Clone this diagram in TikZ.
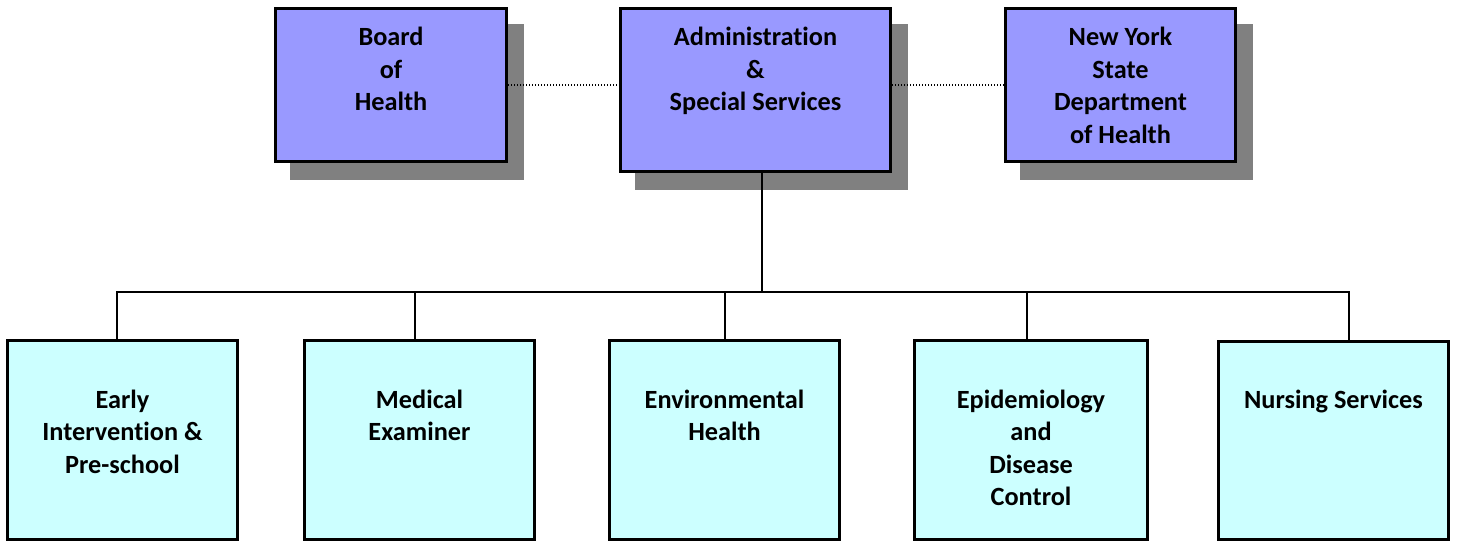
\documentclass[tikz,border=0pt]{standalone}
\usepackage{fontspec}
\setmainfont[Ligatures={NoCommon,NoContextual,NoRare}, RawFeature={-liga;-clig;-dlig;-calt}]{Carlito}
\usetikzlibrary{shadows}
\definecolor{topfill}{HTML}{9999FF}
\definecolor{subfill}{HTML}{CCFFFF}
\definecolor{shadowgray}{HTML}{808080}
\newcommand\boxlines[1]{\parbox[t]{240pt}{\centering\fontsize{26.3}{32.5}\selectfont\bfseries #1}}
\begin{document}
\begin{tikzpicture}[x=1pt,y=-1pt,
  topbox/.style={draw=black, line width=3pt, fill=topfill,
    drop shadow={shadow xshift=16pt, shadow yshift=-16.5pt, fill=shadowgray, draw=shadowgray, line width=3pt, opacity=1}},
  subbox/.style={draw=black, line width=3pt, fill=subfill},
  boxtext/.style={inner sep=0pt, anchor=base},
  conn/.style={line width=1.5pt, black},
  peer/.style={line width=1.2pt, black, dash pattern=on 1.2pt off 1.8pt}]
\useasboundingbox (0,0) rectangle (1461,542);

% upper row
\node[topbox, minimum width=231pt, minimum height=153pt] (board) at (391,85) {};
\node[topbox, minimum width=270pt, minimum height=163pt] (admin) at (755.5,90) {};
\node[topbox, minimum width=230pt, minimum height=153pt] (nys) at (1120.5,85) {};

\node[boxtext] (boardT) at ([yshift=-38.5pt]board.north) {\boxlines{Board\\of\\Health}};
\node[boxtext] (adminT) at ([yshift=-38.5pt]admin.north) {\boxlines{Administration\\\&\\Special Services}};
\node[boxtext] (nysT) at ([yshift=-38.5pt]nys.north) {\boxlines{New York\\State\\Department\\of Health}};

% lower row
\node[subbox, minimum width=230pt, minimum height=199pt] (early) at (122.5,440) {};
\node[subbox, minimum width=230pt, minimum height=199pt] (medical) at (419.5,440) {};
\node[subbox, minimum width=230pt, minimum height=199pt] (env) at (724.5,440) {};
\node[subbox, minimum width=233pt, minimum height=199pt] (epi) at (1031,440) {};
\node[subbox, minimum width=230pt, minimum height=198pt] (nursing) at (1333.5,440.5) {};

\node[boxtext] (earlyT) at ([yshift=-69pt]early.north) {\boxlines{Early\\Intervention \&\\Pre-school}};
\node[boxtext] (medicalT) at ([yshift=-69pt]medical.north) {\boxlines{Medical\\Examiner}};
\node[boxtext] (envT) at ([yshift=-69pt]env.north) {\boxlines{Environmental\\Health}};
\node[boxtext] (epiT) at ([yshift=-69pt]epi.north) {\boxlines{Epidemiology\\and\\Disease\\Control}};
\node[boxtext] (nursingT) at ([yshift=-68pt]nursing.north) {\boxlines{Nursing Services}};

% advisory links
\draw[peer] (board.east) -- (board.east -| admin.west);
\draw[peer] (nys.west -| admin.east) -- (nys.west);

% reporting lines
\coordinate (bus) at (0,292);
\draw[conn] ([xshift=6.5pt]admin.south) -- ([xshift=6.5pt]admin.south |- bus);
\draw[conn] ([xshift=-5.5pt]early.north) |- ([xshift=15.5pt]nursing.north |- bus) -- ([xshift=15.5pt]nursing.north);
\draw[conn] ([xshift=-4.5pt]medical.north) -- ([xshift=-4.5pt]medical.north |- bus);
\draw[conn] ([xshift=0.5pt]env.north) -- ([xshift=0.5pt]env.north |- bus);
\draw[conn] ([xshift=-4pt]epi.north) -- ([xshift=-4pt]epi.north |- bus);
\end{tikzpicture}
\end{document}
